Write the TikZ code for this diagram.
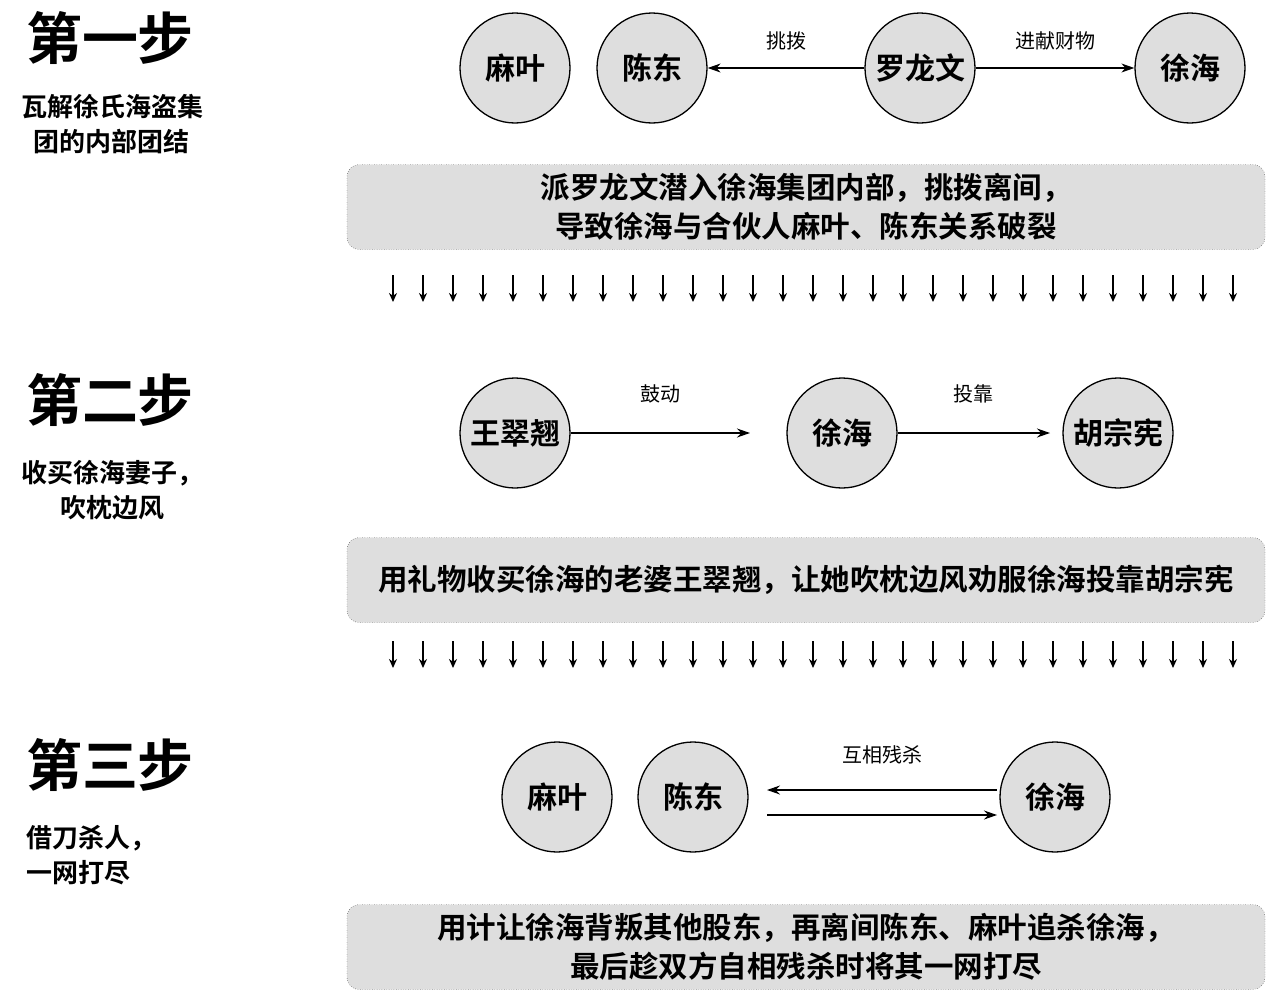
\documentclass[tikz,border=0pt]{standalone}
\usepackage{fontspec}
\setmainfont{Noto Sans CJK SC}
\newfontfamily\cjkb{Noto Sans CJK SC Bold}
\usetikzlibrary{arrows.meta}
\begin{document}
\begin{tikzpicture}[x=1pt,y=-1pt,
  person/.style={circle,draw=black,line width=1.3pt,fill=black!13,minimum size=110pt,inner sep=0pt,font=\cjkb\fontsize{30}{32}\selectfont},
  infobox/.style={draw=black,dotted,rounded corners=12pt,fill=black!13,minimum width=918pt,minimum height=85pt,align=center,font=\cjkb\fontsize{29.5}{39}\selectfont},
  rel/.style={-{Stealth[length=13pt,width=9pt]},line width=1.2pt},
  lab/.style={font=\fontsize{20}{22}\selectfont},
  steptitle/.style={font=\cjkb\fontsize{56}{60}\selectfont},
  stepsub/.style={font=\cjkb\fontsize{26}{35}\selectfont,align=center},
  down/.style={-{Stealth[length=9pt,width=8pt]},line width=1.8pt}]
\useasboundingbox (0,0) rectangle (1280,1001);
% step 1
\node[steptitle] (t1) at (110,38) {第一步};
\node[stepsub] (s1) at (112,124) {瓦解徐氏海盗集\\团的内部团结};
\node[person] (a1) at (515,68) {麻叶};
\node[person] (b1) at (652,68) {陈东};
\node[person] (c1) at (920,68) {罗龙文};
\node[person] (d1) at (1190,68) {徐海};
\draw[rel] (c1) -- (b1) node[lab,midway,above=14pt] {挑拨};
\draw[rel] (c1) -- (d1) node[lab,midway,above=14pt] {进献财物};
\node[infobox] (box1) at (806,207) {派罗龙文潜入徐海集团内部，挑拨离间，\\导致徐海与合伙人麻叶、陈东关系破裂};
\foreach \i in {0,...,28}{\coordinate (u\i) at (393+30*\i,275); \coordinate (v\i) at (393+30*\i,302); \draw[down] (u\i) -- (v\i);}
% step 2
\node[steptitle] (t2) at (110,400) {第二步};
\node[stepsub] (s2) at (112,490) {收买徐海妻子，\\吹枕边风};
\node[person] (a2) at (515,433) {王翠翘};
\node[person] (b2) at (842,433) {徐海};
\node[person] (c2) at (1118,433) {胡宗宪};
\coordinate (e2) at (750,433);
\coordinate (f2) at (1050,433);
\draw[rel] (a2) -- (e2) node[lab,midway,above=26pt] {鼓动};
\draw[rel] (b2) -- (f2) node[lab,midway,above=26pt] {投靠};
\node[infobox] (box2) at (806,580) {用礼物收买徐海的老婆王翠翘，让她吹枕边风劝服徐海投靠胡宗宪};
\foreach \i in {0,...,28}{\coordinate (p\i) at (393+30*\i,641); \coordinate (q\i) at (393+30*\i,668); \draw[down] (p\i) -- (q\i);}
% step 3
\node[steptitle] (t3) at (110,765) {第三步};
\node[stepsub,align=left] (s3) at (92,855) {借刀杀人，\\一网打尽};
\node[person] (a3) at (557,797) {麻叶};
\node[person] (b3) at (693,797) {陈东};
\node[person] (c3) at (1055,797) {徐海};
\coordinate (g3) at (997,790); \coordinate (h3) at (767,790);
\coordinate (i3) at (767,815); \coordinate (j3) at (997,815);
\draw[rel] (g3) -- (h3) node[lab,midway,above=22pt] {互相残杀};
\draw[rel] (i3) -- (j3);
\node[infobox] (box3) at (806,947) {用计让徐海背叛其他股东，再离间陈东、麻叶追杀徐海，\\最后趁双方自相残杀时将其一网打尽};
\end{tikzpicture}
\end{document}
